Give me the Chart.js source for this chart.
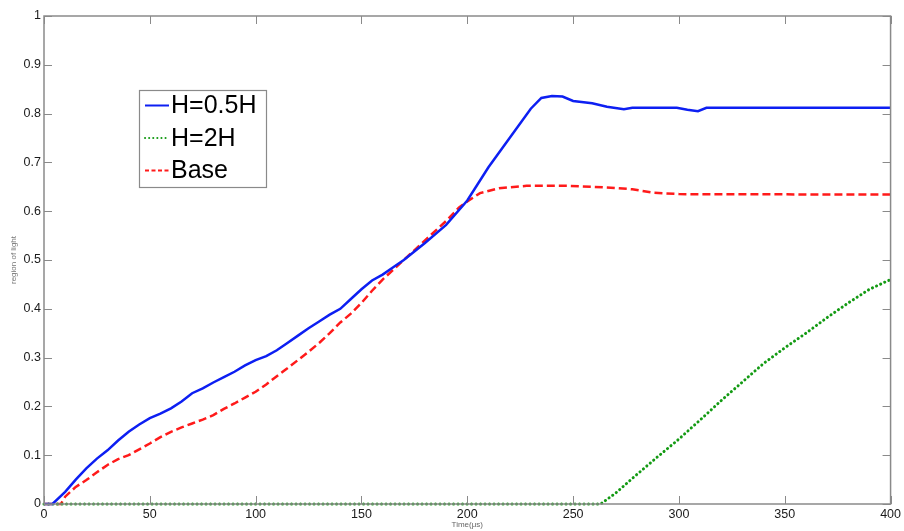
<!DOCTYPE html>
<html><head><meta charset="utf-8">
<script src="https://cdn.jsdelivr.net/npm/chart.js@4/dist/chart.umd.min.js"></script>
<style>html,body{margin:0;padding:0;background:#fff;}canvas{display:block}</style>
</head><body>
<canvas id="c" width="904" height="531"></canvas>
<script>
const xTicks = [0,50,100,150,200,250,300,350,400];
const yTicks = [0,0.1,0.2,0.3,0.4,0.5,0.6,0.7,0.8,0.9,1];
const yTickLabels = ['0','0.1','0.2','0.3','0.4','0.5','0.6','0.7','0.8','0.9','1'];
const seriesNames = ['H=0.5H','H=2H','Base'];

const blueTime  = [0,4,10,15,20,25,30,35,40,45,50,55,60,65,70,75,80,85,90,95,100,105,110,115,120,125,130,135,140,145,150,155,160,165,170,180,190,200,210,220,230,235,240,245,250,259,266,274,278,299,304,309,313,400];
const blueValue = [0,0,0.025,0.05,0.073,0.093,0.11,0.13,0.148,0.163,0.176,0.185,0.196,0.21,0.227,0.237,0.249,0.26,0.271,0.284,0.295,0.303,0.315,0.33,0.345,0.36,0.374,0.388,0.40,0.42,0.44,0.458,0.47,0.485,0.50,0.535,0.572,0.622,0.69,0.75,0.81,0.832,0.836,0.835,0.826,0.821,0.814,0.809,0.812,0.812,0.808,0.805,0.812,0.812];

const greenTime  = [0,263,270,280,290,300,310,320,330,340,350,360,370,380,390,400];
const greenValue = [0,0,0.022,0.06,0.097,0.133,0.172,0.212,0.25,0.288,0.32,0.35,0.382,0.412,0.44,0.46];

const redTime  = [0,8,10,15,20,25,30,35,40,45,50,55,60,65,70,75,80,85,90,95,100,105,110,115,120,125,130,135,140,145,150,155,160,165,170,180,190,196,200,206,215,228,248,264,278,288,300,400];
const redValue = [0,0,0.015,0.035,0.049,0.065,0.08,0.092,0.10,0.112,0.124,0.137,0.148,0.157,0.165,0.173,0.182,0.195,0.206,0.218,0.23,0.245,0.262,0.278,0.295,0.312,0.33,0.35,0.372,0.39,0.412,0.437,0.46,0.48,0.50,0.54,0.58,0.607,0.62,0.637,0.647,0.652,0.652,0.649,0.645,0.638,0.635,0.634];

const toPoints = (t, v) => t.map((x, i) => ({x: x, y: v[i]}));

const frameColor = '#8a8a8a';

const framePlugin = {
  id: 'frame',
  afterDatasetsDraw(chart) {
    const {ctx, chartArea: a, scales} = chart;
    ctx.save();
    ctx.strokeStyle = frameColor;
    ctx.lineWidth = 1.5;
    ctx.strokeRect(a.left, a.top, a.right - a.left, a.bottom - a.top);
    ctx.lineWidth = 1;
    const L = 8;
    ctx.beginPath();
    xTicks.forEach(t => {
      const px = Math.round(scales.x.getPixelForValue(t)) + 0.5;
      ctx.moveTo(px, a.bottom); ctx.lineTo(px, a.bottom - L);
      ctx.moveTo(px, a.top); ctx.lineTo(px, a.top + L);
    });
    yTicks.forEach(t => {
      const py = Math.round(scales.y.getPixelForValue(t)) + 0.5;
      ctx.moveTo(a.left, py); ctx.lineTo(a.left + L, py);
      ctx.moveTo(a.right, py); ctx.lineTo(a.right - L, py);
    });
    ctx.stroke();

    // legend box
    const bx = 139, by = 90, bw = 127, bh = 97;
    ctx.fillStyle = '#fff';
    ctx.fillRect(bx, by, bw, bh);
    ctx.strokeStyle = '#8a8a8a';
    ctx.lineWidth = 1.2;
    ctx.strokeRect(bx + 0.5, by + 0.5, bw, bh);
    const rows = [105.5, 138, 170.5];
    chart.data.datasets.forEach((ds, i) => {
      const y = rows[i];
      ctx.save();
      ctx.strokeStyle = ds.borderColor;
      ctx.lineWidth = 2;
      ctx.lineCap = i === 1 ? 'round' : 'butt';
      ctx.setLineDash(i === 0 ? [] : (i === 1 ? [0.1, 4] : [4, 2.5]));
      ctx.beginPath();
      ctx.moveTo(145, y); ctx.lineTo(169, y);
      ctx.stroke();
      ctx.restore();
      ctx.fillStyle = '#000';
      ctx.font = '25px "Liberation Sans", Arial, sans-serif';
      ctx.textBaseline = 'middle';
      ctx.textAlign = 'left';
      ctx.fillText(ds.label, 171, y + 1);
    });
    ctx.restore();
  }
};

new Chart(document.getElementById('c'), {
  type: 'line',
  data: {
    datasets: [
      {label: seriesNames[0], data: toPoints(blueTime, blueValue), borderColor: '#0d1ff2', borderWidth: 2.5, pointRadius: 0, tension: 0, fill: false, clip: 4},
      {label: seriesNames[1], data: toPoints(greenTime, greenValue), borderColor: '#139a13', borderWidth: 3, borderDash: [0.1, 4.4], borderCapStyle: 'round', pointRadius: 0, tension: 0, fill: false, clip: 4},
      {label: seriesNames[2], data: toPoints(redTime, redValue), borderColor: '#ff1a1a', borderWidth: 2.5, borderDash: [8, 4], pointRadius: 0, tension: 0, fill: false, clip: 4}
    ]
  },
  options: {
    responsive: false,
    animation: false,
    parsing: true,
    layout: {padding: {top: 16, right: 13, left: 0, bottom: 0}},
    plugins: {legend: {display: false}, tooltip: {enabled: false}},
    scales: {
      x: {
        type: 'linear', min: 0, max: 400,
        afterBuildTicks: s => { s.ticks = xTicks.map(v => ({value: v})); },
        afterFit: s => { s.height = 27; },
        grid: {display: false, drawTicks: false},
        border: {display: false},
        ticks: {color: '#1a1a1a', padding: 3, maxRotation: 0, autoSkip: false, font: {family: '"Liberation Sans", Arial, sans-serif', size: 12.5}, callback: v => String(v)},
        title: {display: true, text: 'Time(μs)', color: '#666', font: {family: '"Liberation Sans", Arial, sans-serif', size: 8}, padding: {top: 0, bottom: 1}}
      },
      y: {
        type: 'linear', min: 0, max: 1,
        afterBuildTicks: s => { s.ticks = yTicks.map(v => ({value: v})); },
        afterFit: s => { s.width = 44; },
        grid: {display: false, drawTicks: false},
        border: {display: false},
        ticks: {color: '#1a1a1a', padding: 3, autoSkip: false, font: {family: '"Liberation Sans", Arial, sans-serif', size: 12.5}, callback: (v) => { const i = yTicks.findIndex(t => Math.abs(t - v) < 1e-9); return i >= 0 ? yTickLabels[i] : ''; }},
        title: {display: true, text: 'region of light', color: '#777', font: {family: '"Liberation Sans", Arial, sans-serif', size: 8}, padding: {top: 9, bottom: 0}}
      }
    }
  },
  plugins: [framePlugin]
});
</script>
</body></html>
